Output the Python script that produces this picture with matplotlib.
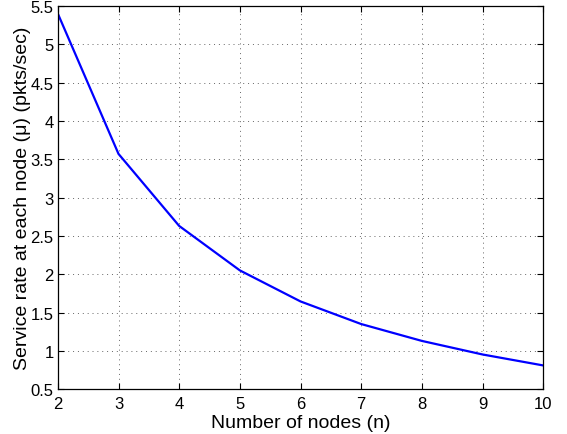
import matplotlib
matplotlib.use("Agg")
import matplotlib.pyplot as plt

plt.rcParams['font.family'] = ['Liberation Sans', 'DejaVu Sans']

# number of nodes and service rate
nodes = [2, 3, 4, 5, 6, 7, 8, 9, 10]
mu = [5.40, 3.57, 2.63, 2.05, 1.645, 1.35, 1.13, 0.953, 0.81]

fig = plt.figure(figsize=(5.67, 4.35), dpi=100)
ax = fig.add_axes([0.102, 0.103, 0.856, 0.881])

ax.plot(nodes, mu, color='#0000ff', linewidth=1.6)

ax.set_xlim(2, 10)
ax.set_ylim(0.5, 5.5)
ax.set_xticks(range(2, 11))
ax.set_yticks([0.5, 1, 1.5, 2, 2.5, 3, 3.5, 4, 4.5, 5, 5.5])
ax.set_yticklabels(['0.5', '1', '1.5', '2', '2.5', '3', '3.5', '4', '4.5', '5', '5.5'])
ax.grid(True, linestyle=(0, (1, 4)), color='#666666', linewidth=0.7)
ax.tick_params(direction='in', labelsize=12, length=4, top=True, right=True, pad=5)
ax.tick_params(axis='y', pad=3)
for s in ax.spines.values():
    s.set_linewidth(0.9)

ax.set_xlabel("Number of nodes (n)", fontsize=14, labelpad=2)
ax.set_ylabel("Service rate at each node (\u03bc) (pkts/sec)", fontsize=14, labelpad=0)

fig.savefig("out.png", dpi=100)
